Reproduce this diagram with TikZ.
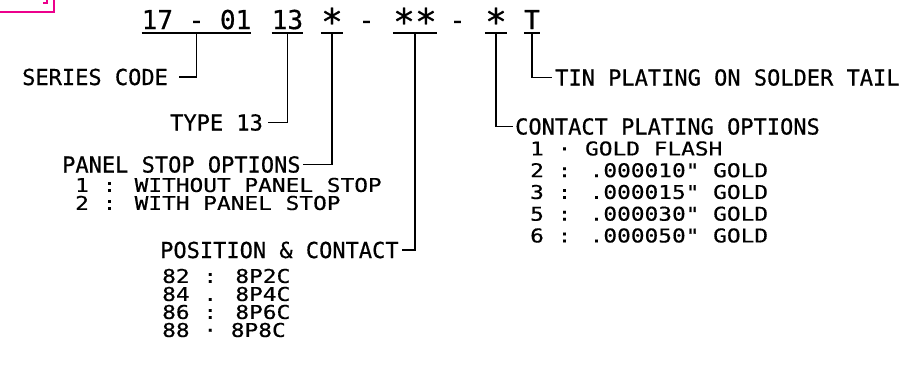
\documentclass[tikz,border=0pt]{standalone}
\usepackage{fontspec}
\usepackage{graphicx}
\newfontfamily\cadfont{DejaVu Sans Mono}[FakeBold=0.6]
\newfontfamily\cadwide{DejaVu Sans Mono}[FakeStretch=1.2, FakeBold=0.6]
\newcommand{\cadstar}{\raisebox{-0.22em}{\scalebox{1.4}{*}}}

\begin{document}
\begin{tikzpicture}[x=1pt, y=-1pt,
    code/.style={inner sep=0pt, anchor=base, font=\cadfont\fontsize{26}{30}\selectfont},
    note/.style={inner sep=0pt, anchor=west, font=\cadfont\fontsize{22}{26}\selectfont},
    item/.style={inner sep=0pt, anchor=west, font=\cadwide\fontsize{19}{22}\selectfont},
    lead/.style={line width=1.6pt},
    frame/.style={magenta, line width=1.6pt}]
  \useasboundingbox (0,0) rectangle (923,365);
  \draw[frame] (0,12) -- (54,12) -- (54,0);
  \draw[frame] (43,3) -- (47,3) -- (47,0);

  \node[code] (s17) at (196.5,29) {17 - 01};
  \node[code] (s13) at (287.5,29) {13};
  \node[code] (sa) at (332,29) {\cadstar};
  \node[code] (d1) at (366.5,29) {-};
  \node[code] (sb) at (415,29) {\cadstar\cadstar};
  \node[code] (d2) at (457.5,29) {-};
  \node[code] (sc) at (496,29) {\cadstar};
  \node[code] (st) at (532,29) {T};
  \foreach \n in {s17, s13, sa, sb, sc, st}
    \draw[lead] ([yshift=-4pt]\n.base west) -- ([yshift=-4pt]\n.base east);

  \node[note] (series) at (22,77) {SERIES CODE};
  \node[note] (type) at (170,122.5) {TYPE 13};
  \node[note] (panel) at (62,164.5) {PANEL STOP OPTIONS};
  \node[item] (panel1) at (75,185) {1 : WITHOUT PANEL STOP};
  \node[item] (panel2) at (75,203) {2 : WITH PANEL STOP};
  \node[note] (pos) at (160,250) {POSITION \& CONTACT};
  \foreach \i/\t in {1/82 : 8P2C, 2/84 . 8P4C, 3/86 : 8P6C, 4/88 · 8P8C}
    \node[item] (pos\i) at (162,258+18*\i) {\t};
  \node[note] (plating) at (515,126.5) {CONTACT PLATING OPTIONS};
  \foreach \i/\t in {1/1 · GOLD FLASH, 2/2 : .000010" GOLD, 3/3 : .000015" GOLD,
                     4/5 : .000030" GOLD, 5/6 : .000050" GOLD}
    \node[item] (plating\i) at (530,126.75+21.75*\i) {\t};
  \node[note] (tin) at (555,77.5) {TIN PLATING ON SOLDER TAIL};

  \draw[lead, shorten >=11pt] ([yshift=-4pt]s17.base) |- (series.east);
  \draw[lead, shorten >=5pt] ([yshift=-4pt]s13.base) |- (type.east);
  \draw[lead, shorten >=2pt] ([yshift=-4pt]sa.base) |- (panel.east);
  \draw[lead, shorten >=3pt] ([yshift=-4pt]sb.base) |- (pos.east);
  \draw[lead, shorten >=2pt] ([yshift=-4pt]sc.base) |- (plating.west);
  \draw[lead, shorten >=3pt] ([yshift=-4pt]st.base) |- (tin.west);
\end{tikzpicture}
\end{document}
